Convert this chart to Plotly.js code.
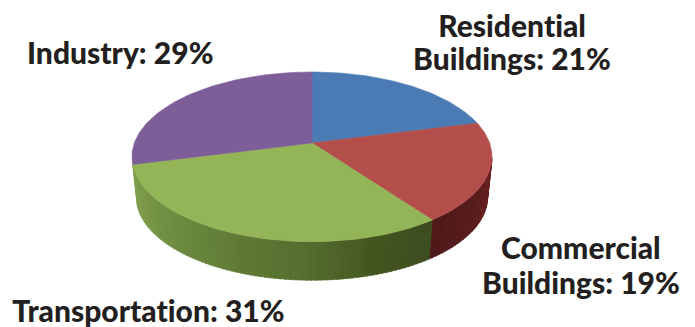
<!DOCTYPE html>
<html>
<head>
<meta charset="utf-8">
<script src="https://cdn.plot.ly/plotly-3.0.1.min.js"></script>
<style>html,body{margin:0;padding:0;background:#fff}#chart{width:695px;height:327px}
#chart text{font-variant-ligatures:none;font-feature-settings:"liga" 0}</style>
</head>
<body>
<div id="chart"></div>
<script>
// Energy use by sector, share of total (%), clockwise from twelve o'clock
const sectors = [["Residential", "Buildings"], ["Commercial", "Buildings"], ["Transportation"], ["Industry"]];
const shares = [21, 19, 31, 29];

const topColors = ["#4a7bb4", "#b44e4b", "#94b458", "#7e5e99"];
// Shading along the rim of each slice, from its first edge to its last
const rimRamps = [
  ["#3a5f8c", "#3a5f8c"],
  ["#6a2020", "#5a1c1c", "#4f1a1a"],
  ["#3d4d20", "#44561f", "#566e30", "#5f7a36", "#6c8a3e", "#779546", "#7f9f4c"],
  ["#5f4775", "#5f4775"]
];
// Centre of each label line
const labelAnchors = [[[512, 25], [512, 58]], [[581, 247], [581, 282]], [[148, 310]], [[120, 52]]];

// Tilted disc: a circle seen in perspective
const apex = {x: 312, y: 143};
const lens = {a: 177.6, b: 82.6, k: 0.163};
const depth = 41, floorScale = 0.975;

function rimPoint(pct) {
  const t = pct / 100 * 2 * Math.PI, X = Math.sin(t), Y = Math.cos(t), w = 1 + lens.k * Y;
  return [apex.x + lens.a * X / w, apex.y - lens.b * Y / w];
}
function floorPoint(pct) {
  const [x, y] = rimPoint(pct);
  return [apex.x + (x - apex.x) * floorScale, apex.y + depth + (y - apex.y) * floorScale];
}
function hexMix(c1, c2, f) {
  const p = c => [1, 3, 5].map(i => parseInt(c.slice(i, i + 2), 16));
  const a = p(c1), b = p(c2);
  return "rgb(" + a.map((v, i) => Math.round(v + (b[i] - v) * f)).join(",") + ")";
}
function rampColor(ramp, f) {
  const s = Math.min(f, 0.9999) * (ramp.length - 1), i = Math.floor(s);
  return hexMix(ramp[i], ramp[i + 1], s - i);
}
function polygon(xs, ys, color) {
  return {type: "scatter", mode: "lines", x: xs, y: ys, fill: "toself", fillcolor: color,
          line: {width: 0.6, color: color}, hoverinfo: "skip", showlegend: false};
}

const traces = [];
let start = 0;

// Side wall first: only the part of the rim facing the viewer
const wallFrom = 27.6, wallTo = 71;
shares.forEach((share, i) => {
  const end = start + share;
  const a = Math.max(start, wallFrom), b = Math.min(end, wallTo);
  if (b > a) {
    const step = 0.4;
    for (let p = a; p < b; p += step) {
      const q = Math.min(p + step + 0.1, b);
      const [x1, y1] = rimPoint(p), [x2, y2] = rimPoint(q);
      const [x3, y3] = floorPoint(q), [x4, y4] = floorPoint(p);
      traces.push(polygon([x1, x2, x3, x4, x1], [y1, y2, y3, y4, y1],
        rampColor(rimRamps[i], (p - a) / (b - a))));
    }
  }
  start = end;
});

// Top face, one wedge per sector
start = 0;
shares.forEach((share, i) => {
  const xs = [apex.x], ys = [apex.y];
  for (let p = start; p <= start + share + 1e-6; p += share / 60) {
    const [x, y] = rimPoint(p);
    xs.push(x); ys.push(y);
  }
  xs.push(apex.x); ys.push(apex.y);
  traces.push(polygon(xs, ys, topColors[i]));
  start += share;
});

// One annotation per text line so the line gap can be set by hand
const annotations = sectors.flatMap((lines, i) => lines.map((line, j) => ({
  x: labelAnchors[i][j][0], y: labelAnchors[i][j][1], xref: "x", yref: "y",
  text: j === lines.length - 1 ? line + ": " + shares[i] + "%" : line,
  showarrow: false, xanchor: "center", yanchor: "middle",
  font: {family: "Lato, sans-serif", size: 30, weight: 900, color: "#231f20"}
})));

const layout = {
  width: 695, height: 327, margin: {l: 0, r: 0, t: 0, b: 0},
  paper_bgcolor: "#fff", plot_bgcolor: "#fff", showlegend: false,
  xaxis: {range: [0, 695], visible: false, fixedrange: true},
  yaxis: {range: [327, 0], visible: false, fixedrange: true},
  annotations: annotations
};
Plotly.newPlot("chart", traces, layout, {staticPlot: true, displayModeBar: false});
</script>
</body>
</html>
